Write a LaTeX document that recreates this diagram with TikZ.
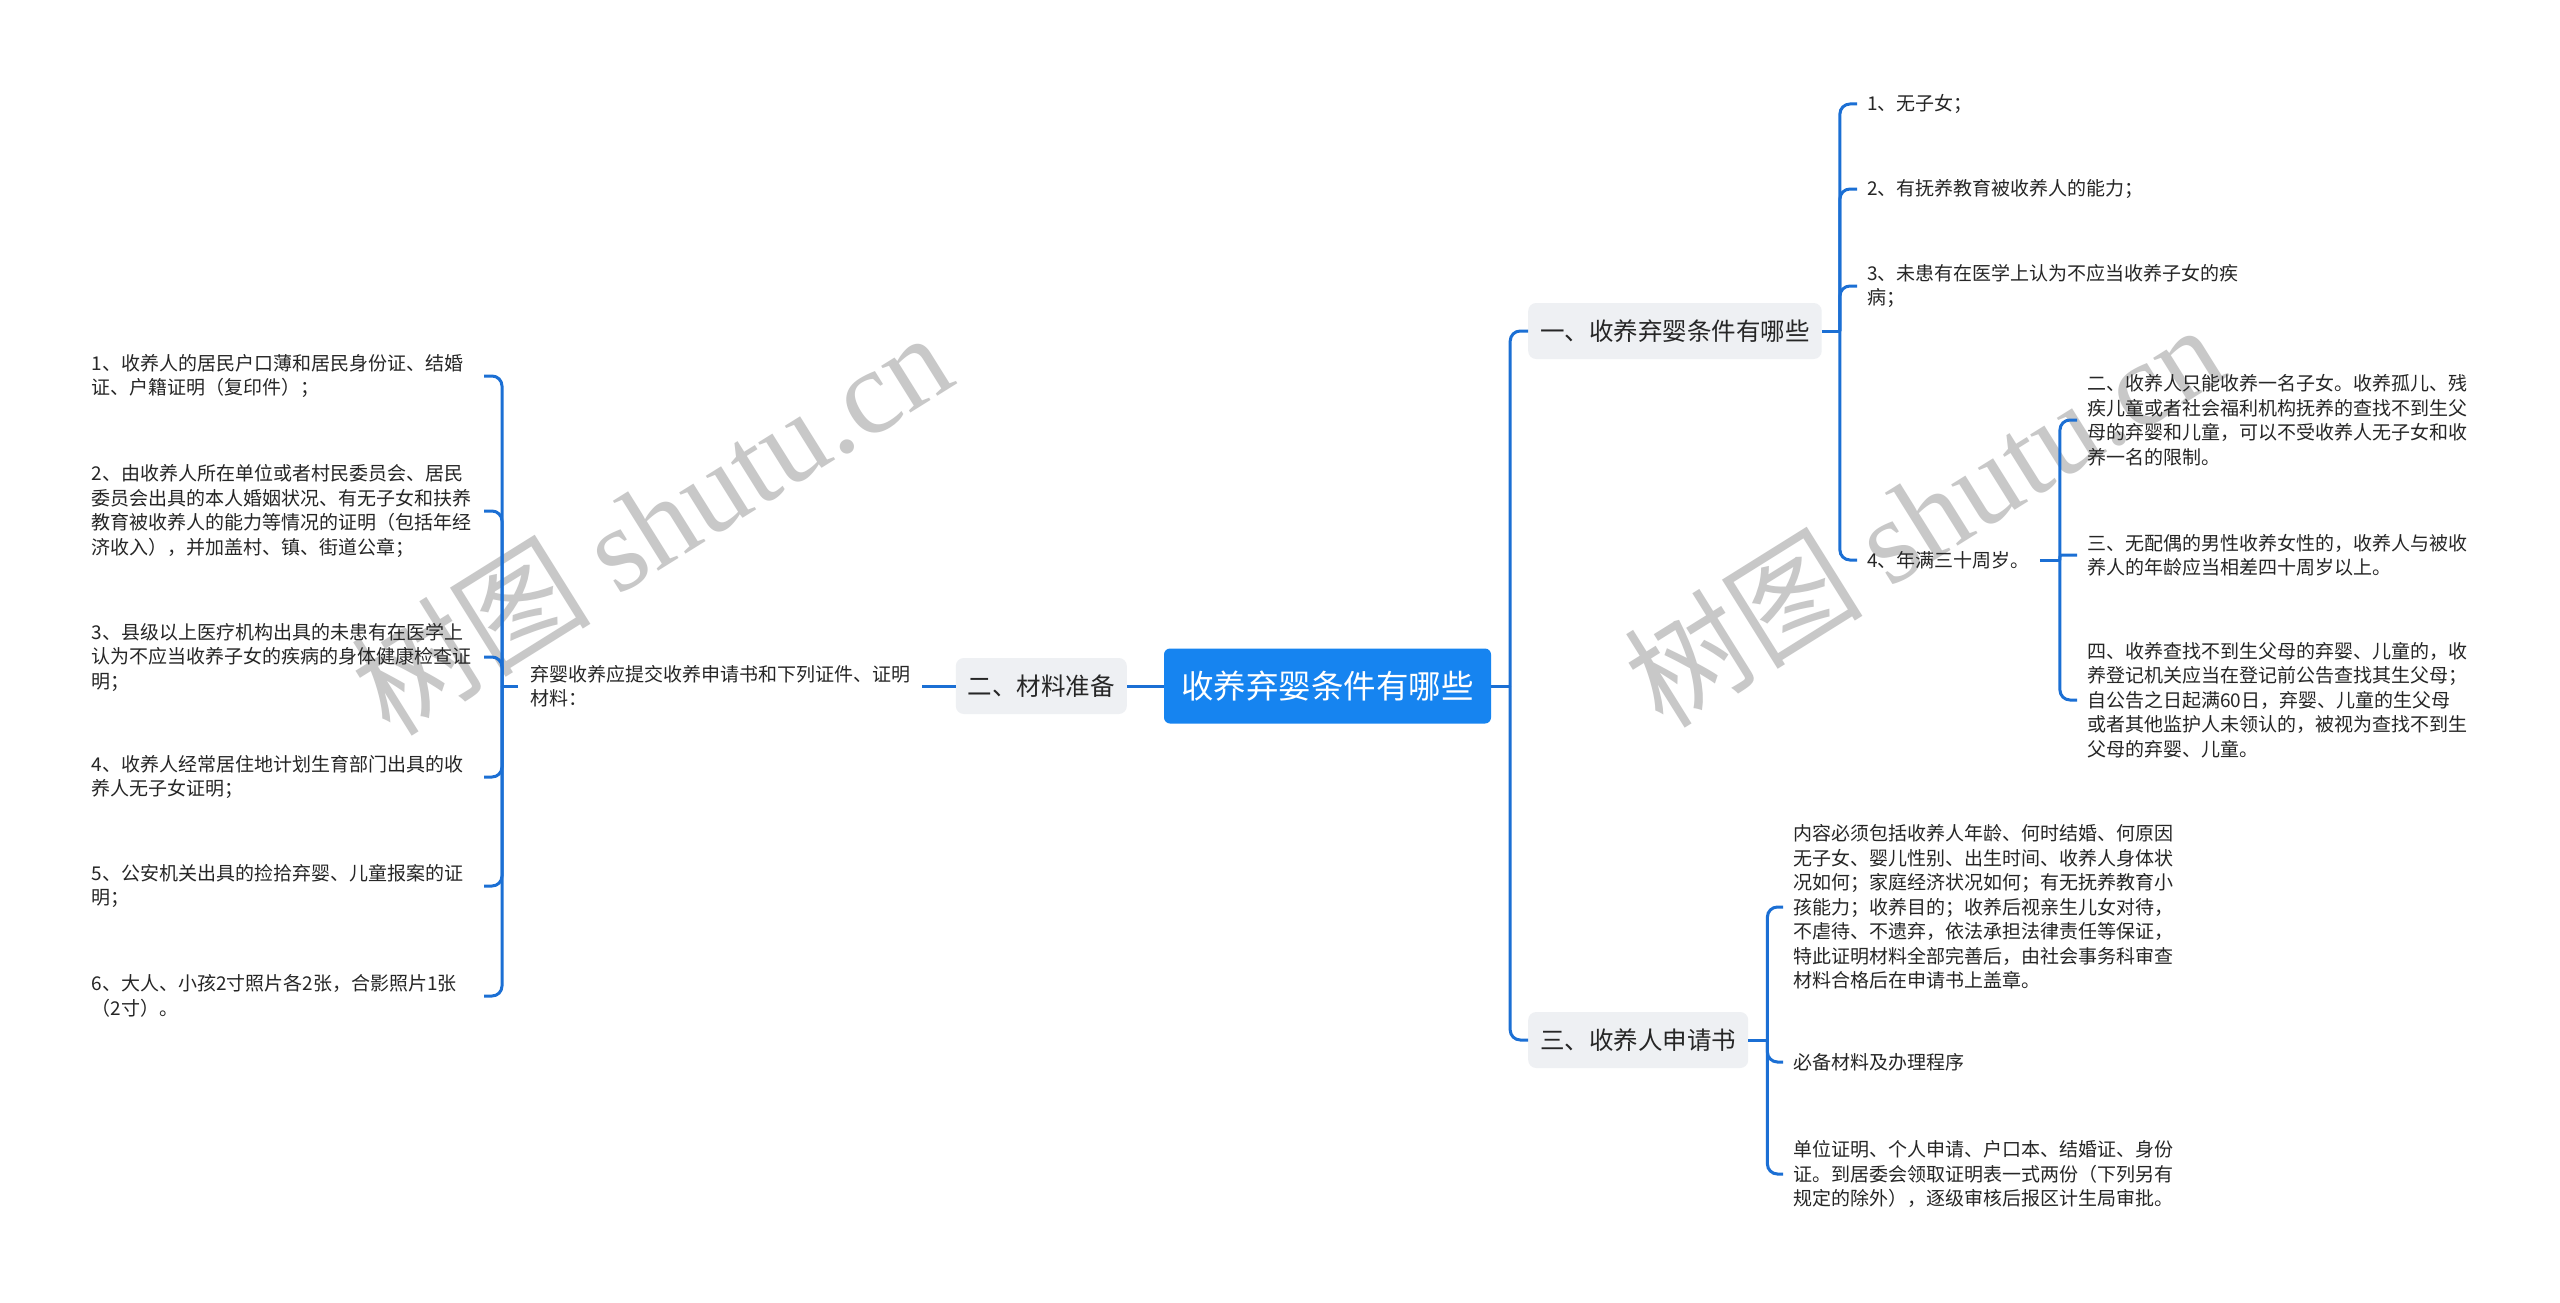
\documentclass[tikz,border=0pt]{standalone}
\usepackage{fontspec}
\setmainfont{Noto Sans CJK SC}
\newfontfamily\wmlatin{Liberation Serif}
\usetikzlibrary{positioning,calc}
\definecolor{rootblue}{RGB}{22,132,240}
\definecolor{linkblue}{RGB}{27,111,212}
\definecolor{topicgray}{RGB}{238,240,243}
\definecolor{inkgray}{RGB}{38,38,38}
\definecolor{markgray}{RGB}{200,200,200}

\begin{document}
\begin{tikzpicture}[x=1pt, y=-1pt,
    root/.style={rectangle, rounded corners=6pt, fill=rootblue, text=white, minimum width=327pt, minimum height=75pt, inner sep=0pt, font=\fontsize{32.5}{36}\selectfont},
    topic/.style={rectangle, rounded corners=8pt, fill=topicgray, text=inkgray, minimum height=56pt, inner xsep=12pt, inner ysep=0pt, font=\fontsize{24.5}{28}\selectfont},
    leaf/.style={text=inkgray, align=left, inner xsep=10pt, inner ysep=2pt, font=\fontsize{19}{24.5}\selectfont},
    leafleft/.style={leaf, inner xsep=8pt, text width=384pt, anchor=east},
    link/.style={draw=linkblue, line width=3pt, rounded corners=10pt},
    wmark/.style={text=markgray, font=\fontsize{120}{126}\selectfont, rotate=32, inner sep=0pt}
]
\fill[white] (0,0) rectangle (2560,1303);
\useasboundingbox (0,0) rectangle (2560,1303);

% Watermarks
\node[wmark] (wm1) at (651,522) {树图 {\wmlatin shutu.cn}};
\node[wmark] (wm2) at (1923,514) {树图 {\wmlatin shutu.cn}};

% Root
\node[root] (root) at (1327.5,686) {收养弃婴条件有哪些};

% Topics
\node[topic, anchor=west] (b1) at (1528,331) {一、收养弃婴条件有哪些};
\node[topic, anchor=east] (b2) at (1127,686) {二、材料准备};
\node[topic, anchor=west] (b3) at (1528,1040) {三、收养人申请书};

% Topic 1
\node[leaf, anchor=west] (r1) at (1857,104) {1、无子女；};
\node[leaf, anchor=west] (r2) at (1857,189) {2、有抚养教育被收养人的能力；};
\node[leaf, anchor=west] (r3) at (1857,286) {3、未患有在医学上认为不应当收养子女的疾\\病；};
\node[leaf, anchor=west] (r4) at (1857,560) {4、年满三十周岁。};
\node[leaf, anchor=west] (s1) at (2077,420) {二、收养人只能收养一名子女。收养孤儿、残\\疾儿童或者社会福利机构抚养的查找不到生父\\母的弃婴和儿童，可以不受收养人无子女和收\\养一名的限制。};
\node[leaf, anchor=west] (s2) at (2077,555) {三、无配偶的男性收养女性的，收养人与被收\\养人的年龄应当相差四十周岁以上。};
\node[leaf, anchor=west] (s3) at (2077,700) {四、收养查找不到生父母的弃婴、儿童的，收\\养登记机关应当在登记前公告查找其生父母；\\自公告之日起满60日，弃婴、儿童的生父母\\或者其他监护人未领认的，被视为查找不到生\\父母的弃婴、儿童。};

% Topic 2
\node[leaf, anchor=west, inner xsep=12pt] (mat) at (518,686) {弃婴收养应提交收养申请书和下列证件、证明\\材料：};
\node[leafleft] (l1) at (484,376) {1、收养人的居民户口薄和居民身份证、结婚\\证、户籍证明（复印件）；};
\node[leafleft] (l2) at (484,511) {2、由收养人所在单位或者村民委员会、居民\\委员会出具的本人婚姻状况、有无子女和扶养\\教育被收养人的能力等情况的证明（包括年经\\济收入），并加盖村、镇、街道公章；};
\node[leafleft] (l3) at (484,657) {3、县级以上医疗机构出具的未患有在医学上\\认为不应当收养子女的疾病的身体健康检查证\\明；};
\node[leafleft] (l4) at (484,777) {4、收养人经常居住地计划生育部门出具的收\\养人无子女证明；};
\node[leafleft] (l5) at (484,886) {5、公安机关出具的捡拾弃婴、儿童报案的证\\明；};
\node[leafleft] (l6) at (484,996) {6、大人、小孩2寸照片各2张，合影照片1张\\（2寸）。};

% Topic 3
\node[leaf, anchor=west] (t1) at (1783,907) {内容必须包括收养人年龄、何时结婚、何原因\\无子女、婴儿性别、出生时间、收养人身体状\\况如何；家庭经济状况如何；有无抚养教育小\\孩能力；收养目的；收养后视亲生儿女对待，\\不虐待、不遗弃，依法承担法律责任等保证，\\特此证明材料全部完善后，由社会事务科审查\\材料合格后在申请书上盖章。};
\node[leaf, anchor=west] (t2) at (1783,1062) {必备材料及办理程序};
\node[leaf, anchor=west] (t3) at (1783,1174) {单位证明、个人申请、户口本、结婚证、身份\\证。到居委会领取证明表一式两份（下列另有\\规定的除外），逐级审核后报区计生局审批。};

% Junctions
\coordinate (j0) at ([xshift=19pt]root.east);
\coordinate (j1) at ([xshift=18pt]b1.east);
\coordinate (j2) at ([xshift=-16pt]mat.west);
\coordinate (j3) at ([xshift=19pt]b3.east);
\coordinate (j4) at ([xshift=20pt]r4.east);

% Edges
\draw[link] (root.east) -- (j0);
\draw[link] (j0) |- (b1.west);
\draw[link] (j0) |- (b3.west);
\draw[link] (root.west) -- (b2.east);
\draw[link] (b2.west) -- (mat.east);
\draw[link] (mat.west) -- (j2);
\draw[link] (j2) |- (l1.east);
\draw[link] (j2) |- (l2.east);
\draw[link] (j2) |- (l3.east);
\draw[link] (j2) |- (l4.east);
\draw[link] (j2) |- (l5.east);
\draw[link] (j2) |- (l6.east);
\draw[link] (b1.east) -- (j1);
\draw[link] (j1) |- (r1.west);
\draw[link] (j1) |- (r2.west);
\draw[link] (j1) |- (r3.west);
\draw[link] (j1) |- (r4.west);
\draw[link] (r4.east) -- (j4);
\draw[link] (j4) |- (s1.west);
\draw[link, rounded corners=2pt] (j4) |- (s2.west);
\draw[link] (j4) |- (s3.west);
\draw[link] (b3.east) -- (j3);
\draw[link] (j3) |- (t1.west);
\draw[link] (j3) |- (t2.west);
\draw[link] (j3) |- (t3.west);

\end{tikzpicture}
\end{document}
